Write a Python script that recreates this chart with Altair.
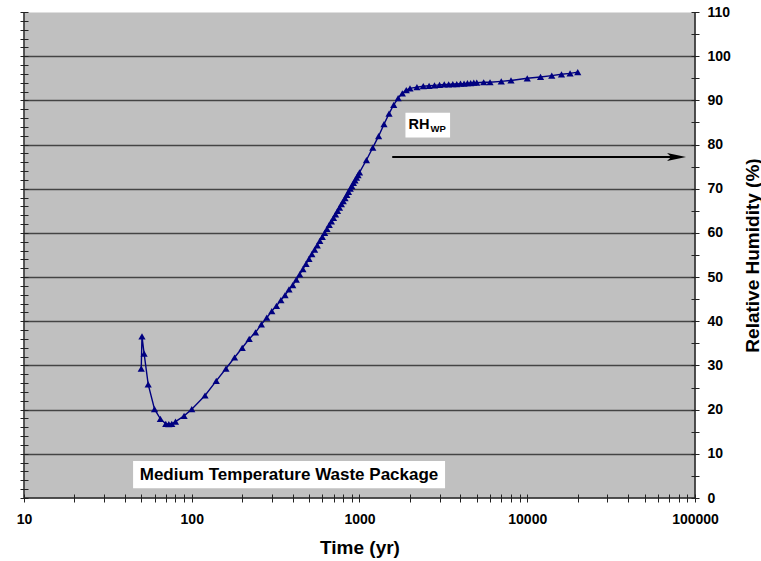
import altair as alt
import pandas as pd

# ---------------- data ----------------
TIME = [50, 50.5, 52, 55, 60, 65, 70, 73, 76, 80, 90, 100,
        120, 140, 160, 180, 200, 220, 240, 260, 280, 300, 320, 340, 360, 380, 400,
        420, 440, 460, 480, 500, 520, 540, 560, 580, 600, 620, 640, 660, 680, 700,
        720, 740, 760, 780, 800, 820, 840, 860, 880, 900, 920, 940, 960, 980, 1000,
        1100, 1200, 1300, 1400, 1500, 1600, 1700, 1800, 1900, 2000,
        2200, 2400, 2600, 2800, 3000, 3200, 3400, 3600, 3800, 4000, 4200, 4400,
        4600, 4800, 5000, 5500, 6000, 7000, 8000, 10000, 12000, 14000, 16000,
        18000, 20000]
RH = [29.3, 36.6, 32.7, 25.7, 20.1, 17.9, 16.8, 16.7, 16.8, 17.3, 18.6, 20.1,
      23.2, 26.5, 29.3, 31.8, 34.0, 36.0, 37.5, 39.3, 40.8, 42.3, 43.5, 44.8, 45.9, 47.2, 48.2,
      49.4, 50.6, 51.8, 53.0, 54.1, 55.2, 56.2, 57.2, 58.2, 59.1, 60.0, 60.9, 61.8, 62.6, 63.4,
      64.2, 65.0, 65.7, 66.5, 67.2, 67.9, 68.6, 69.3, 70.0, 70.6, 71.3, 71.9, 72.5, 73.1, 73.7,
      76.5, 79.3, 81.9, 84.6, 87.0, 89.0, 90.5, 91.6, 92.3, 92.7,
      93.0, 93.2, 93.3, 93.4, 93.5, 93.6, 93.6, 93.7, 93.7, 93.8, 93.8, 93.9,
      93.9, 94.0, 94.0, 94.1, 94.1, 94.3, 94.5, 95.0, 95.3, 95.6, 95.9,
      96.1, 96.4]

X_DOMAIN = [10, 100000]
Y_DOMAIN = [0, 110]
DECADES = [10, 100, 1000, 10000, 100000]

# annotation anchors (data units)
MED_TEXT = ["Medium Temperature Waste Package"]
MED_BOX_T = [44.7, 3236]
MED_BOX_RH = [2.2, 8.4]
MED_TEXT_T = [380]
MED_TEXT_RH = [5.2]

RHWP_MAIN = ["RH"]
RHWP_SUB = ["WP"]
RHWP_BOX_T = [1879, 3467]
RHWP_BOX_RH = [81.6, 87.2]
RHWP_MAIN_T = [1959]
RHWP_MAIN_RH = [84.4]
RHWP_SUB_T = [2650]
RHWP_SUB_RH = [83.5]

ARROW_T = [1567, 77600]
ARROW_RH = [77.2]
ARROW_HEAD_T = [77600]

# ---------------- chart ----------------
W, H = 671, 486
FONT = "Liberation Sans"
NAVY = "#000080"

df = pd.DataFrame({"t": TIME, "rh": RH})

xs = alt.Scale(type="log", domain=X_DOMAIN, nice=False)
ys = alt.Scale(domain=Y_DOMAIN, nice=False, zero=False)

x_ticks = [m * 10 ** e for e in range(1, 5) for m in range(1, 10)] + [100000]
decade_test = " || ".join(f"datum.value == {d}" for d in DECADES)

x_axis = alt.Axis(
    orient="bottom", values=x_ticks,
    labelExpr=f"({decade_test}) ? format(datum.value, 'd') : ''",
    domain=False, offset=-4, tickSize=8, tickColor="#222", tickWidth=1,
    labelFont=FONT, labelFontSize=14, labelFontWeight="bold", labelColor="black",
    labelPadding=10, labelOverlap=False, labelFlush=False, grid=False,
    title="Time (yr)", titleFont=FONT, titleFontSize=19, titleFontWeight="bold",
    titleColor="black", titlePadding=12,
)

y_right = alt.Axis(
    orient="right", values=list(range(0, 111, 5)),
    labelExpr="datum.value % 10 === 0 ? datum.label : ''",
    domain=False, offset=-4, tickSize=8, tickColor="#222", tickWidth=1,
    labelFont=FONT, labelFontSize=14, labelFontWeight="bold", labelColor="black",
    labelPadding=8, labelOverlap=False, labelFlush=False,
    grid=True, gridColor="#444444", gridWidth=1.6,
    gridOpacity={"condition": {"test": "datum.value % 10 === 0 && datum.value > 0 && datum.value < 110", "value": 1}, "value": 0},
    title="Relative Humidity (%)", titleFont=FONT, titleFontSize=19, titleFontWeight="bold",
    titleColor="black", titleAngle=270, titleX=61, titleY=243,
    titleAlign="center", titleBaseline="middle",
)

y_left = alt.Axis(
    orient="left", values=list(range(0, 111, 2)), labels=False,
    domain=False, offset=-4, tickSize=8, tickColor="#222", tickWidth=1,
    grid=False, title=None,
)


def X(field):
    return alt.X(field, scale=xs, axis=x_axis)


# axis lines
bottom_line = alt.Chart(pd.DataFrame({"t0": [X_DOMAIN[0]], "t1": [X_DOMAIN[1]], "r": [Y_DOMAIN[0]]})).mark_rule(
    color="#222", strokeWidth=1.5
).encode(
    x=X("t0:Q"), x2="t1:Q",
    y=alt.Y("r:Q", scale=ys, axis=None),
)
left_line = alt.Chart(pd.DataFrame({"t": [X_DOMAIN[0]], "r0": [Y_DOMAIN[0]], "r1": [Y_DOMAIN[1]]})).mark_rule(
    color="#222", strokeWidth=1.5
).encode(
    x=X("t:Q"),
    y=alt.Y("r0:Q", scale=ys, axis=y_left), y2="r1:Q",
)
right_line = alt.Chart(pd.DataFrame({"t": [X_DOMAIN[1]], "r0": [Y_DOMAIN[0]], "r1": [Y_DOMAIN[1]]})).mark_rule(
    color="#222", strokeWidth=1.5
).encode(
    x=X("t:Q"),
    y=alt.Y("r0:Q", scale=ys, axis=None), y2="r1:Q",
)


# annotation boxes & texts
def box(ts, rs):
    return alt.Chart(pd.DataFrame({"a": [ts[0]], "b": [ts[1]], "c": [rs[0]], "d": [rs[1]]})).mark_rect(
        color="white"
    ).encode(
        x=X("a:Q"), x2="b:Q",
        y=alt.Y("c:Q", scale=ys, axis=None), y2="d:Q",
    )


def label(ts, rs, ss, size, align):
    return alt.Chart(pd.DataFrame({"t": ts, "rh": rs, "s": ss})).mark_text(
        font=FONT, fontSize=size, fontWeight="bold", color="black", align=align, baseline="middle"
    ).encode(
        x=X("t:Q"), y=alt.Y("rh:Q", scale=ys, axis=None), text="s:N"
    )


med_box = box(MED_BOX_T, MED_BOX_RH)
med_text = label(MED_TEXT_T, MED_TEXT_RH, MED_TEXT, 17, "center")
rh_box = box(RHWP_BOX_T, RHWP_BOX_RH)
rh_main = label(RHWP_MAIN_T, RHWP_MAIN_RH, RHWP_MAIN, 14.5, "left")
rh_sub = label(RHWP_SUB_T, RHWP_SUB_RH, RHWP_SUB, 9.5, "left")

# arrow
arrow_line = alt.Chart(pd.DataFrame({"a": [ARROW_T[0]], "b": [ARROW_T[1]], "r": ARROW_RH})).mark_rule(
    color="black", strokeWidth=2
).encode(
    x=X("a:Q"), x2="b:Q",
    y=alt.Y("r:Q", scale=ys, axis=None),
)
arrow_head = alt.Chart(pd.DataFrame({"t": ARROW_HEAD_T, "r": ARROW_RH})).mark_point(
    shape="M -1 -0.42 L 1 0 L -1 0.42 L -0.55 0 Z", filled=True, color="black", opacity=1, size=360
).encode(
    x=X("t:Q"),
    y=alt.Y("r:Q", scale=ys, axis=None),
)

# data series
series_line = alt.Chart(df).mark_line(color=NAVY, strokeWidth=1.4).encode(
    x=X("t:Q"),
    y=alt.Y("rh:Q", scale=ys, axis=y_right),
)
series_pts = alt.Chart(df).mark_point(
    shape="triangle-up", filled=True, color=NAVY, opacity=1, size=52
).encode(
    x=X("t:Q"),
    y=alt.Y("rh:Q", scale=ys, axis=None),
)

chart = alt.layer(
    series_line, bottom_line, left_line, right_line,
    med_box, med_text, rh_box, rh_main, rh_sub,
    arrow_line, arrow_head, series_pts,
).resolve_axis(y="independent").properties(
    width=W, height=H,
    padding={"left": 24, "top": 12, "right": 66, "bottom": 63},
    autosize=alt.AutoSizeParams(type="none"),
    background="white",
).configure_view(fill="#c0c0c0", stroke="transparent")

chart.save("out.html", embed_options={"renderer": "svg", "actions": False})
